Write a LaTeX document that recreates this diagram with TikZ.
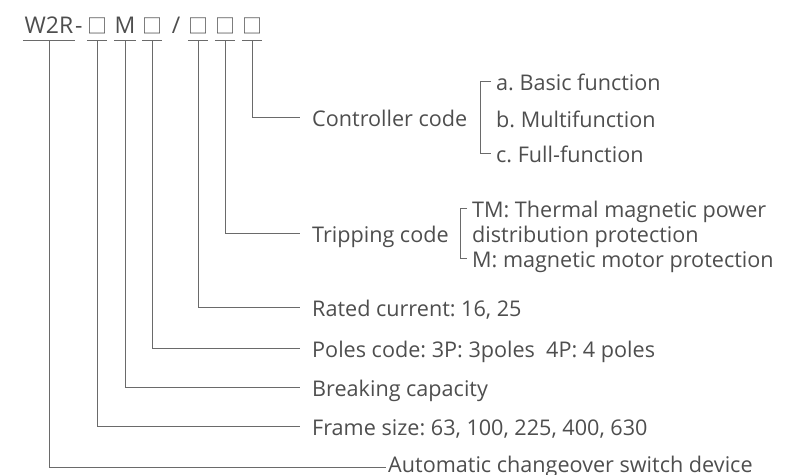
\documentclass[tikz,border=0pt]{standalone}
\usepackage{fontspec}
\setmainfont{Open Sans}
\newfontfamily\cjk{Noto Sans CJK SC}
\usetikzlibrary{positioning}
\frenchspacing

\definecolor{txtgray}{HTML}{4E4E4E}
\definecolor{lngray}{HTML}{6A6A6A}

\tikzset{
  code/.style={inner xsep=0pt, inner ysep=0pt, text height=16pt, text depth=7pt,
    minimum width=18pt, anchor=base, text=txtgray, font=\fontsize{23}{27}\selectfont},
  box/.style={code, font=\cjk\fontsize{20}{24}\selectfont},
  lbl/.style={anchor=west, inner xsep=12pt, inner ysep=0pt, text height=18pt,
    text depth=0pt, text=txtgray, font=\fontsize{21.6}{25}\selectfont},
  opt/.style={lbl, inner xsep=0pt},
  conn/.style={draw=lngray, line width=1pt},
  uline/.style={draw=lngray, line width=1pt}
}

\begin{document}
\begin{tikzpicture}[x=1pt, y=-1pt]
\useasboundingbox (0,0) rectangle (787,474);

% model code
\node[code, inner xsep=1.5pt] (w2r) at (49,33) {W2R};
\node[code, minimum width=0pt, anchor=base west] (dash) at (w2r.base east) {-};
\node[box] (b1) at (97,33) {□};
\node[code] (m) at (125,33) {M};
\node[box] (b2) at (152,33) {□};
\node[code] (sl) at (176,33) {/};
\node[box] (b3) at (198,33) {□};
\node[box] (b4) at (225,33) {□};
\node[box] (b5) at (252,33) {□};
\foreach \n in {w2r,b1,m,b2,b3,b4,b5}
  \draw[uline] (\n.south west) -- (\n.south east);

% meanings
\node[lbl] (ctrl) at (300,117) {Controller code};
\node[lbl] (trip) at (300,233) {Tripping code};
\node[lbl] (rated) at (300,307) {Rated current: 16, 25};
\node[lbl] (poles) at (300,348) {Poles code: 3P: 3poles\ \ 4P: 4 poles};
\node[lbl] (brk) at (300,387) {Breaking capacity};
\node[lbl] (frame) at (300,426) {Frame size: 63, 100, 225, 400, 630};
\node[lbl, inner xsep=2pt, text height=11pt] (auto) at (386,467) {Automatic changeover switch device};

% controller options
\node[opt] (ca) at (496,81) {a. Basic function};
\node[opt] (cb) at (496,118) {b. Multifunction};
\node[opt] (cc) at (496,153) {c. Full-function};
\draw[conn] ([xshift=-5pt]ca.west) -- ++(-11,0) |- ([xshift=-5pt]cc.west);

% tripping options
\node[opt] (ta) at (472,208) {TM: Thermal magnetic power};
\node[opt] (tb) at (472,233) {distribution protection};
\node[opt] (tc) at (472,258) {M: magnetic motor protection};
\draw[conn] ([xshift=-5pt]ta.west) -- ++(-7,0) |- ([xshift=-5pt]tc.west);

% connectors
\draw[conn] (b5.south) |- (ctrl.west);
\draw[conn] (b4.south) |- (trip.west);
\draw[conn] (b3.south) |- (rated.west);
\draw[conn] (b2.south) |- (poles.west);
\draw[conn] (m.south) |- (brk.west);
\draw[conn] (b1.south) |- (frame.west);
\draw[conn] (w2r.south) |- (auto.west);
\end{tikzpicture}
\end{document}
